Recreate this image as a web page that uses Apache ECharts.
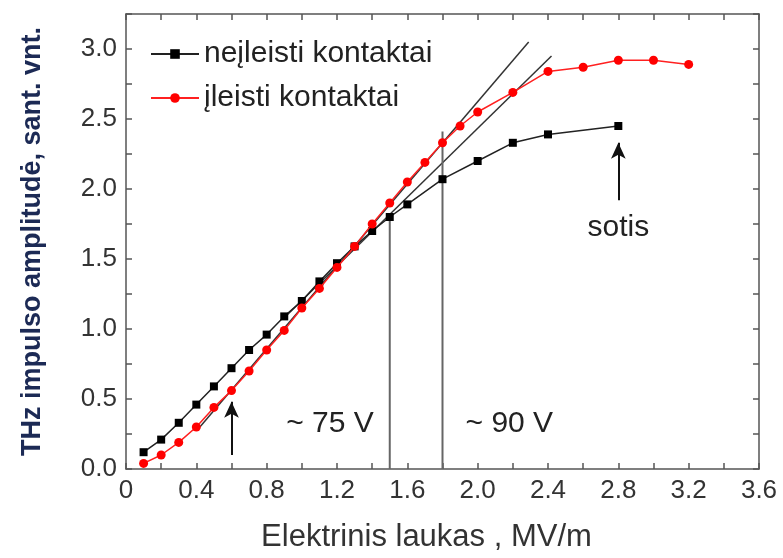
<!DOCTYPE html>
<html><head><meta charset="utf-8">
<script src="https://cdn.jsdelivr.net/npm/echarts@6/dist/echarts.min.js"></script>
<style>html,body{margin:0;padding:0;background:#fff}#c{width:783px;height:558px}</style>
</head><body><div id="c"></div>
<script>
const seriesNames = ['neįleisti kontaktai', 'įleisti kontaktai'];
const blackX = [0.1,0.2,0.3,0.4,0.5,0.6,0.7,0.8,0.9,1.0,1.1,1.2,1.3,1.4,1.5,1.6,1.8,2.0,2.2,2.4,2.8];
const blackY = [0.12,0.21,0.33,0.46,0.59,0.72,0.85,0.96,1.09,1.20,1.34,1.47,1.59,1.70,1.80,1.89,2.07,2.20,2.33,2.39,2.45];
const redX = [0.1,0.2,0.3,0.4,0.5,0.6,0.7,0.8,0.9,1.0,1.1,1.2,1.3,1.4,1.5,1.6,1.7,1.8,1.9,2.0,2.2,2.4,2.6,2.8,3.0,3.2];
const redY = [0.04,0.10,0.19,0.30,0.44,0.56,0.70,0.85,0.99,1.15,1.29,1.44,1.59,1.75,1.90,2.05,2.19,2.33,2.45,2.55,2.69,2.84,2.87,2.92,2.92,2.89];
const tangentA = [[0.42,0.30],[2.29,3.05]];
const tangentB = [[0.9,1.08],[2.42,2.95]];
const vline75 = [[1.5,0],[1.5,1.80]];
const vline90 = [[1.8,0],[1.8,2.41]];
const arrows = [[[0.6,0.10],[0.6,0.48]], [[2.8,1.92],[2.8,2.33]]];
const notes = [['~ 75 V',1.16,0.32],['~ 90 V',2.18,0.32],['sotis',2.8,1.72]];
const xTitle = 'Elektrinis laukas , MV/m';
const yTitle = 'THz impulso amplitudė, sant. vnt.';

const zip = (xs, ys) => xs.map((x, i) => [x, ys[i]]);
const FONT = 'Liberation Sans, Arial, sans-serif';
const axisCol = '#555';
const near = (v, step) => Math.abs(v / step - Math.round(v / step)) < 1e-6;
const frameAxis = {
  axisLine: {show: true, onZero: false, lineStyle: {color: axisCol, width: 1.5}},
  axisTick: {show: true, inside: true, length: 6, lineStyle: {color: axisCol, width: 1.5}},
  splitLine: {show: false}
};

const chart = echarts.init(document.getElementById('c'));
chart.setOption({
  animation: false,
  backgroundColor: '#fff',
  grid: {left: 126, right: 24, top: 14, bottom: 82},
  legend: {
    data: seriesNames, orient: 'vertical', left: 145, top: 34,
    itemWidth: 48, itemHeight: 12, itemGap: 14,
    textStyle: {fontFamily: FONT, fontSize: 30, color: '#222', lineHeight: 28}
  },
  xAxis: [Object.assign({
    type: 'value', min: 0, max: 3.6, interval: 0.2, position: 'bottom',
    axisLabel: {fontFamily: FONT, fontSize: 26, color: '#333', margin: 9,
      formatter: v => near(v, 0.4) ? (v === 0 ? '0' : v.toFixed(1)) : ''},
    name: xTitle, nameLocation: 'middle', nameGap: 53,
    nameTextStyle: {fontFamily: FONT, fontSize: 31, color: '#333', padding: [0, 32, 0, 0]}
  }, frameAxis), Object.assign({
    type: 'value', min: 0, max: 3.6, interval: 0.2, position: 'top',
    axisLabel: {show: false}
  }, frameAxis)],
  yAxis: [Object.assign({
    type: 'value', min: 0, max: 3.25, interval: 0.25, position: 'left',
    axisLabel: {fontFamily: FONT, fontSize: 26, color: '#333', margin: 9,
      formatter: v => near(v, 0.5) ? v.toFixed(1) : ''},
    name: yTitle, nameLocation: 'middle', nameGap: 80,
    nameTextStyle: {fontFamily: FONT, fontSize: 27, fontWeight: 'bold', color: '#1c2a55'}
  }, frameAxis), Object.assign({
    type: 'value', min: 0, max: 3.25, interval: 0.25, position: 'right',
    axisLabel: {show: false}
  }, frameAxis)],
  series: [
    {type: 'line', name: 'tA', data: tangentA, symbol: 'none', silent: true, z: 1,
     lineStyle: {color: '#333', width: 1.5}},
    {type: 'line', name: 'tB', data: tangentB, symbol: 'none', silent: true, z: 1,
     lineStyle: {color: '#333', width: 1.5}},
    {type: 'line', name: 'v75', data: vline75, symbol: 'none', silent: true, z: 1,
     lineStyle: {color: '#666', width: 2}},
    {type: 'line', name: 'v90', data: vline90, symbol: 'none', silent: true, z: 1,
     lineStyle: {color: '#666', width: 2},
     markLine: {silent: true, symbol: ['none', 'arrow'], symbolSize: [11, 16],
       lineStyle: {color: '#111', width: 2, type: 'solid'}, label: {show: false},
       data: arrows.map(a => [{coord: a[0]}, {coord: a[1]}])}},
    {type: 'line', name: seriesNames[0], data: zip(blackX, blackY), z: 3,
     symbol: 'rect', symbolSize: 8, color: '#000',
     itemStyle: {color: '#000'}, lineStyle: {color: '#222', width: 1.5}},
    {type: 'line', name: seriesNames[1], data: zip(redX, redY), z: 4,
     symbol: 'circle', symbolSize: 9, color: '#ff0000',
     itemStyle: {color: '#ff0000'}, lineStyle: {color: '#ff2020', width: 1.5}},
    {type: 'scatter', name: 'notes', symbolSize: 0, silent: true, z: 5,
     itemStyle: {opacity: 1, color: '#222'},
     data: notes.map(n => ({value: [n[1], n[2]], name: n[0]})),
     label: {show: true, position: 'inside', formatter: p => p.name, opacity: 1,
       fontFamily: FONT, fontSize: 30, color: '#222', textBorderWidth: 0}}
  ]
});
</script></body></html>
